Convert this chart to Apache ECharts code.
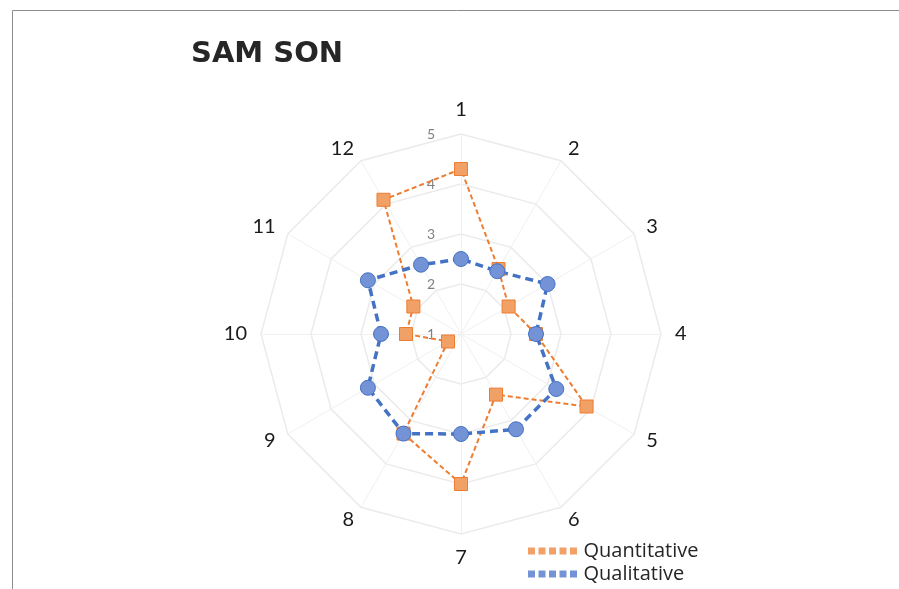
<!DOCTYPE html>
<html><head><meta charset="utf-8">
<script src="https://cdn.jsdelivr.net/npm/echarts@6/dist/echarts.min.js"></script>
<style>html,body{margin:0;padding:0;background:#fff}#c{width:899px;height:589px}</style>
</head><body><div id="c"></div>
<script>
const categories = ['1','2','3','4','5','6','7','8','9','10','11','12'];
const quantitative = [4.3, 2.5, 2.1, 2.5, 3.9, 2.4, 4.0, 3.3, 1.3, 2.1, 2.1, 4.1];
const qualitative = [2.5, 2.45, 3.0, 2.5, 3.2, 3.2, 3.0, 3.3, 3.15, 2.6, 3.15, 2.6];
const axisMin = 1, axisMax = 5, axisSplits = 4;
const titleText = 'SAM SON';

// ECharts radar lays axes out counter-clockwise; reorder so categories run clockwise
const order = [0].concat(categories.map((_, i) => i).slice(1).reverse());
const reorder = arr => order.map(i => arr[i]);

const chart = echarts.init(document.getElementById('c'), null, {renderer:'canvas'});
const indicator = order.map((idx, i) => {
  const o = {name: categories[idx], min: axisMin, max: axisMax};
  if (i === 0) o.axisLabel = {show: true};
  return o;
});
const dashIcon = 'path://M0,0h8v8h-8z M12,0h8v8h-8z M24,0h8v8h-8z M36,0h8v8h-8z M48,0h8v8h-8z';
chart.setOption({
  backgroundColor: '#fff',
  animation: false,
  graphic: [{type:'rect', shape:{x:12.5, y:10.5, width:1000, height:700}, style:{fill:'none', stroke:'#8c8c8c', lineWidth:1}, silent:true}],
  title: {text: titleText, left: 186, top: 35, textStyle:{fontFamily:'DejaVu Sans', fontWeight:'bold', fontSize:29, color:'#262626'}},
  legend: {
    orient:'vertical', left: 528, top: 541, padding: 0, itemWidth: 56, itemHeight: 7, itemGap: 3,
    textStyle:{fontFamily:'Open Sans', fontSize:20, color:'#262626', padding:[0,0,0,-2]},
    itemStyle:{borderWidth:0},
    data:[{name:'Quantitative', icon: dashIcon},{name:'Qualitative', icon: dashIcon}]
  },
  radar: {
    center:[461, 334], radius: 200, startAngle: 90, shape:'polygon', splitNumber: axisSplits,
    nameGap: 14,
    axisName:{color:'#1a1a1a', fontFamily:'Lato', fontSize:20},
    axisLine:{show:true, lineStyle:{color:'#f0f0f0', width:1}},
    splitLine:{lineStyle:{color:'#ebebeb', width:1.5}},
    splitArea:{show:false},
    axisTick:{show:false},
    axisLabel:{show:false, color:'#808080', fontFamily:'Lato', fontSize:14, margin:26},
    indicator: indicator
  },
  series: [{
    type:'radar',
    data:[
      {name:'Quantitative', value: reorder(quantitative), symbol:'rect', symbolSize:13,
       itemStyle:{color:'#F1A066', borderColor:'#ED7D31', borderWidth:1},
       lineStyle:{color:'#ED7D31', width:2, type:[5,3]}},
      {name:'Qualitative', value: reorder(qualitative), symbol:'circle', symbolSize:15,
       itemStyle:{color:'#7393D6', borderColor:'#4472C4', borderWidth:1},
       lineStyle:{color:'#4472C4', width:3.5, type:[8,5]}}
    ]
  }]
});
</script></body></html>
